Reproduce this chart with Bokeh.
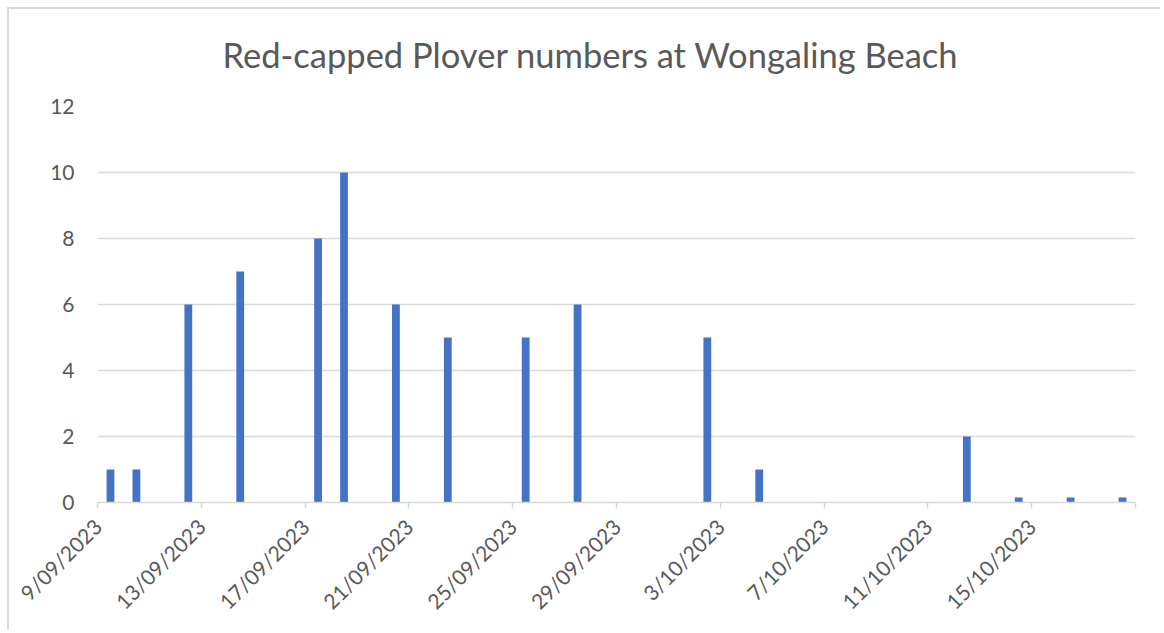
import math
import pandas as pd
from bokeh.plotting import figure
from bokeh.models import FixedTicker, ColumnDataSource
from bokeh.embed import file_html
from bokeh.resources import INLINE

# ---- data ----
dates = ["2023-09-09", "2023-09-10", "2023-09-12", "2023-09-14", "2023-09-17",
         "2023-09-18", "2023-09-20", "2023-09-22", "2023-09-25", "2023-09-27",
         "2023-10-02", "2023-10-04", "2023-10-12", "2023-10-14", "2023-10-16",
         "2023-10-18"]
counts = [1, 1, 6, 7, 8, 10, 6, 5, 5, 6, 5, 1, 2, 0.15, 0.15, 0.15]
tick_dates = ["2023-09-09", "2023-09-13", "2023-09-17", "2023-09-21", "2023-09-25",
              "2023-09-29", "2023-10-03", "2023-10-07", "2023-10-11", "2023-10-15",
              "2023-10-19"]
tick_labels = ["9/09/2023", "13/09/2023", "17/09/2023", "21/09/2023", "25/09/2023",
               "29/09/2023", "3/10/2023", "7/10/2023", "11/10/2023", "15/10/2023", ""]
y_ticks = [0, 2, 4, 6, 8, 10, 12]
title = "Red-capped Plover numbers at Wongaling Beach"

start = pd.Timestamp(tick_dates[0])
end = pd.Timestamp(tick_dates[-1])
xs = [(pd.Timestamp(d) - start).days + 0.5 for d in dates]
tx = [(pd.Timestamp(d) - start).days for d in tick_dates]
x_max = (end - start).days

src = ColumnDataSource(dict(x=xs, top=counts))

FONT = "Lato"
GREY = "#595959"
LINE = "#d9d9d9"

p = figure(frame_width=1038, frame_height=396, output_backend="svg", toolbar_location=None,
           x_range=(0, x_max), y_range=(0, y_ticks[-1]),
           min_border_left=97, min_border_right=25, min_border_top=106,
           min_border_bottom=127, title=title)
# chart-area border (top/left edges visible in the reference) drawn as CSS background
p.border_fill_color = None
p.background_fill_color = None
p.styles = {
    "background-color": "white",
    "background-image": f"linear-gradient({LINE}, {LINE}), linear-gradient({LINE}, {LINE})",
    "background-position": "7px 7px, 7px 7px",
    "background-size": "100% 2px, 2px 100%",
    "background-repeat": "no-repeat",
}
p.outline_line_color = None

p.title.align = "left"
p.title.offset = 125
p.title.text_font = FONT
p.title.text_font_style = "normal"
p.title.text_font_size = "34.5px"
p.title.text_color = GREY
p.title.standoff = 63

p.vbar(x="x", top="top", width=0.3, bottom=0, source=src,
       fill_color="#4472C4", line_color=None)

p.xaxis.ticker = FixedTicker(ticks=tx)
p.xaxis.major_label_overrides = {t: l for t, l in zip(tx, tick_labels)}
p.xaxis.major_label_orientation = math.pi / 4
p.xaxis.axis_line_color = LINE
p.xaxis.axis_line_width = 1.5
p.xaxis.major_tick_line_color = LINE
p.xaxis.major_tick_line_width = 1.5
p.xaxis.major_tick_in = 0
p.xaxis.major_tick_out = 6
p.xaxis.minor_tick_line_color = None
p.xaxis.major_label_text_font = FONT
p.xaxis.major_label_text_font_size = "21px"
p.xaxis.major_label_text_color = GREY
p.xaxis.major_label_standoff = 14

p.yaxis.ticker = FixedTicker(ticks=y_ticks)
p.yaxis.axis_line_color = None
p.yaxis.major_tick_line_color = None
p.yaxis.minor_tick_line_color = None
p.yaxis.major_label_text_font = FONT
p.yaxis.major_label_text_font_size = "21px"
p.yaxis.major_label_text_color = GREY
p.yaxis.major_label_standoff = 17

p.xgrid.grid_line_color = None
p.ygrid.ticker = FixedTicker(ticks=y_ticks)
p.ygrid.grid_line_color = LINE
p.ygrid.grid_line_width = 1.5

open("out.html", "w").write(file_html(p, INLINE))
